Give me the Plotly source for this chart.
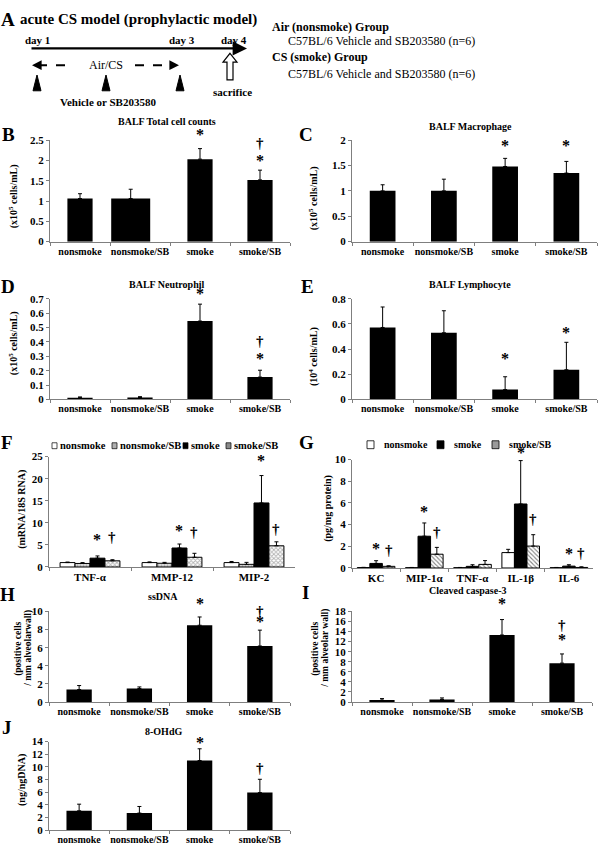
import plotly.graph_objects as go

W, H = 600, 853
SERIF = "Liberation Serif"

# ---------------- data ----------------
groups = ["nonsmoke", "nonsmoke/SB", "smoke", "smoke/SB"]

balf_total = [1.06, 1.06, 2.03, 1.52]
balf_total_sd = [0.12, 0.23, 0.26, 0.24]
balf_macro = [1.0, 1.0, 1.48, 1.35]
balf_macro_sd = [0.12, 0.23, 0.16, 0.23]
balf_neut = [0.012, 0.013, 0.545, 0.155]
balf_neut_sd = [0.005, 0.006, 0.118, 0.048]
balf_lymph = [0.572, 0.53, 0.078, 0.236]
balf_lymph_sd = [0.163, 0.175, 0.102, 0.218]
ssdna = [1.38, 1.49, 8.47, 6.18]
ssdna_sd = [0.44, 0.18, 0.91, 1.75]
caspase = [0.39, 0.52, 13.3, 7.72]
caspase_sd = [0.3, 0.3, 3.07, 1.83]
ohdg = [3.07, 2.71, 11.0, 5.94]
ohdg_sd = [1.04, 1.04, 1.85, 2.1]

# significance marks: (symbol, group, y-position in data units)
marks_total = [("*", "smoke", 2.58), ("†", "smoke/SB", 2.40), ("*", "smoke/SB", 1.96)]
marks_macro = [("*", "smoke", 1.86), ("*", "smoke/SB", 1.86)]
marks_neut = [("*", "smoke", 0.72), ("†", "smoke/SB", 0.40), ("*", "smoke/SB", 0.27)]
marks_lymph = [("*", "smoke", 0.31), ("*", "smoke/SB", 0.52)]
marks_ssdna = [("*", "smoke", 10.65), ("†", "smoke/SB", 9.9), ("*", "smoke/SB", 8.65)]
marks_casp = [("*", "smoke", 19.2), ("†", "smoke/SB", 15.05), ("*", "smoke/SB", 12.0)]
marks_ohdg = [("*", "smoke", 13.6), ("†", "smoke/SB", 9.6)]

# Panel F (mRNA)
genes = ["TNF-α", "MMP-12", "MIP-2"]
f_names = ["nonsmoke", "nonsmoke/SB", "smoke", "smoke/SB"]
f_nonsmoke = [1.0, 1.0, 1.0]
f_nonsmoke_sd = [0.12, 0.15, 0.25]
f_nonsmoke_sb = [0.8, 0.85, 0.6]
f_nonsmoke_sb_sd = [0.2, 0.2, 0.45]
f_smoke = [2.0, 4.3, 14.5]
f_smoke_sd = [0.5, 0.9, 6.2]
f_smoke_sb = [1.4, 2.2, 4.8]
f_smoke_sb_sd = [0.25, 0.9, 0.9]
f_ast = [5.7, 7.8, 23.7]     # asterisk above smoke
f_dag = [6.5, 7.6, 8.4]      # dagger above smoke/SB

# Panel G (protein)
cytokines = ["KC", "MIP-1α", "TNF-α", "IL-1β", "IL-6"]
g_names = ["nonsmoke", "smoke", "smoke/SB"]
g_nonsmoke = [0.04, 0.03, 0.03, 1.42, 0.03]
g_nonsmoke_sd = [0.02, 0.02, 0.02, 0.3, 0.02]
g_smoke = [0.42, 2.93, 0.15, 5.9, 0.17]
g_smoke_sd = [0.25, 1.22, 0.15, 4.0, 0.13]
g_smoke_sb = [0.15, 1.27, 0.33, 2.02, 0.05]
g_smoke_sb_sd = [0.05, 0.63, 0.35, 1.05, 0.06]
g_ast = [1.57, 5.0, None, 10.5, 1.15]
g_dag = [1.57, 3.26, None, 4.4, 1.27]


def X(p):
    return p / W


def Y(p):
    return 1 - p / H


fig = go.Figure()
annotations = []
shapes = []
AXC = "#7f7f7f"


def axis_style(dom_x, dom_y, anchor, ymax=None, dtick=None, xfont=10):
    xa = dict(domain=[X(dom_x[0]), X(dom_x[1])], anchor=anchor[1], showline=True,
              linecolor=AXC, linewidth=1, ticks="outside", ticklen=3, tickcolor=AXC,
              tickson="boundaries", showgrid=False, zeroline=False, tickangle=0,
              tickfont=dict(family=SERIF, size=xfont, color="black", weight="bold"))
    ya = dict(domain=[Y(dom_y[1]), Y(dom_y[0])], anchor=anchor[0], showline=True,
              linecolor=AXC, linewidth=1, ticks="outside", ticklen=3, tickcolor=AXC,
              showgrid=False, zeroline=False, range=[0, ymax], dtick=dtick,
              tickfont=dict(family=SERIF, size=11, color="black", weight="bold"))
    return xa, ya


def text_ann(text, x, y, size=10, bold=True, xanchor="center", angle=0):
    annotations.append(dict(text=text, x=X(x), y=Y(y), xref="paper", yref="paper",
                            showarrow=False, xanchor=xanchor, yanchor="middle",
                            textangle=angle,
                            font=dict(family=SERIF, size=size, color="black",
                                      weight="bold" if bold else "normal")))


def mark_ann(sym, x, y, xr, yr, ymax):
    # y given in data units; expressed as a fraction of the y-axis domain so that
    # marks above the top of the axis range are still drawn
    annotations.append(dict(text=sym, x=x, y=y / ymax, xref=xr, yref=yr + " domain",
                            showarrow=False, xanchor="center", yanchor="middle",
                            yshift=2 if sym == "*" else 1,
                            font=dict(family=SERIF, size=16 if sym == "*" else 15,
                                      color="black", weight="bold")))


simple = [
    dict(n=1, dx=(50, 290), dy=(136, 239), m=balf_total, sd=balf_total_sd, ymax=2.5, dt=0.5,
         title="BALF Total cell counts", txy=(167, 117), yt=["(x10<sup>5</sup> cells/mL)"],
         ytx=[13], yty=193, letter="B", lxy=(8, 130), marks=marks_total,
         widths=[0.42, 0.65, 0.42, 0.42], offsets=[-0.21, -0.48, -0.21, -0.21]),
    dict(n=2, dx=(352, 597), dy=(136, 239), m=balf_macro, sd=balf_macro_sd, ymax=2, dt=0.5,
         title="BALF Macrophage", txy=(470, 122), yt=["(x10<sup>5</sup> cells/mL)"],
         ytx=[313], yty=195, letter="C", lxy=(306, 130), marks=marks_macro),
    dict(n=3, dx=(50, 290), dy=(297, 399), m=balf_neut, sd=balf_neut_sd, ymax=0.7, dt=0.1,
         title="BALF Neutrophil", txy=(167, 282), yt=["(x10<sup>5</sup> cells/mL)"],
         ytx=[13], yty=342, letter="D", lxy=(8, 285), marks=marks_neut),
    dict(n=4, dx=(352, 597), dy=(297, 399), m=balf_lymph, sd=balf_lymph_sd, ymax=0.8, dt=0.2,
         title="BALF Lymphocyte", txy=(470, 282), yt=["(10<sup>4</sup> cells/mL)"],
         ytx=[313], yty=355, letter="E", lxy=(307, 285), marks=marks_lymph),
    dict(n=7, dx=(49, 290), dy=(614, 706), m=ssdna, sd=ssdna_sd, ymax=10, dt=2,
         title="ssDNA", txy=(163, 599), yt=["(positive cells", "/ mm alveolarwall)"],
         ytx=[19, 29], yty=652, letter="H", lxy=(7, 597), marks=marks_ssdna),
    dict(n=8, dx=(352, 592), dy=(614, 706), m=caspase, sd=caspase_sd, ymax=18, dt=2,
         title="Cleaved caspase-3", txy=(468, 593), yt=["(positive cells", "/ mm alveolar wall)"],
         ytx=[316, 326], yty=652, letter="I", lxy=(305, 595), marks=marks_casp),
    dict(n=9, dx=(49, 290), dy=(746, 836), m=ohdg, sd=ohdg_sd, ymax=14, dt=2,
         title="8-OHdG", txy=(163, 736), yt=["(ng/ngDNA)"],
         ytx=[22], yty=785, letter="J", lxy=(7, 732), marks=marks_ohdg),
]

layout_axes = {}
for p in simple:
    n = p["n"]
    sfx = "" if n == 1 else str(n)
    xr, yr = "x" + sfx, "y" + sfx
    widths = p.get("widths", [0.42] * 4)
    offsets = p.get("offsets", [-0.21] * 4)
    fig.add_trace(go.Bar(x=groups, y=p["m"], xaxis=xr, yaxis=yr,
                         width=widths, offset=offsets,
                         marker=dict(color="black", line=dict(width=0)),
                         error_y=dict(type="data", array=p["sd"], arrayminus=[0] * 4,
                                      symmetric=False, color="black", thickness=1, width=2),
                         showlegend=False))
    xa, ya = axis_style(p["dx"], p["dy"], (xr, yr), p["ymax"], p["dt"])
    layout_axes["xaxis" + sfx] = xa
    layout_axes["yaxis" + sfx] = ya
    text_ann(p["title"], *p["txy"], size=10)
    ysize = 10 if len(p["yt"]) == 1 else 9.5
    for line, lx in zip(p["yt"], p["ytx"]):
        text_ann(line, lx, p["yty"], size=ysize, angle=-90)
    text_ann(p["letter"], *p["lxy"], size=19)
    for sym, g, yv in p["marks"]:
        mark_ann(sym, g, yv, xr, yr, p["ymax"])

# ---------------- Panel F ----------------
f_vals = [f_nonsmoke, f_nonsmoke_sb, f_smoke, f_smoke_sb]
f_sds = [f_nonsmoke_sd, f_nonsmoke_sb_sd, f_smoke_sd, f_smoke_sb_sd]
f_markers = [
    dict(color="white", line=dict(color="black", width=1)),
    dict(color="#e0e0e0", line=dict(color="black", width=1),
         pattern=dict(shape=".", fgcolor="#555555", size=3, solidity=0.4)),
    dict(color="black", line=dict(color="black", width=1)),
    dict(color="white", line=dict(color="black", width=1),
         pattern=dict(shape="x", fgcolor="#666666", size=3, solidity=0.5)),
]
fw = 0.1825
F_YMAX = 25
for k in range(4):
    fig.add_trace(go.Bar(x=genes, y=f_vals[k], name=f_names[k], xaxis="x5", yaxis="y5",
                         width=fw, offset=-2 * fw + k * fw, marker=f_markers[k],
                         error_y=dict(type="data", array=f_sds[k], arrayminus=[0] * 3,
                                      symmetric=False, color="black", thickness=1, width=2),
                         showlegend=False))
xa, ya = axis_style((49, 295), (457, 569), ("x5", "y5"), F_YMAX, 5, xfont=11)
layout_axes["xaxis5"], layout_axes["yaxis5"] = xa, ya
for i in range(3):
    mark_ann("*", i - 2 * fw + 2.5 * fw, f_ast[i], "x5", "y5", F_YMAX)
    mark_ann("†", i - 2 * fw + 3.5 * fw, f_dag[i], "x5", "y5", F_YMAX)
text_ann("F", 7, 443, size=19)
text_ann("(mRNA/18S RNA)", 22, 511, size=10, angle=-90)
# legend F
f_leg = [(52, "nonsmoke"), (112, "nonsmoke/SB"), (183, "smoke"), (226, "smoke/SB")]
f_leg_fill = ["white", "#b0b0b0", "black", "#8a8a8a"]
for (lx, lab), fc in zip(f_leg, f_leg_fill):
    shapes.append(dict(type="rect", xref="paper", yref="paper", x0=X(lx), x1=X(lx + 5),
                       y0=Y(449), y1=Y(443), fillcolor=fc, line=dict(color="black", width=0.7)))
    text_ann(lab, lx + 6, 446, size=10.5, xanchor="left")

# ---------------- Panel G ----------------
g_vals = [g_nonsmoke, g_smoke, g_smoke_sb]
g_sds = [g_nonsmoke_sd, g_smoke_sd, g_smoke_sb_sd]
g_markers = [
    dict(color="white", line=dict(color="black", width=1)),
    dict(color="black", line=dict(color="black", width=1)),
    dict(color="white", line=dict(color="black", width=1),
         pattern=dict(shape="\\", fgcolor="black", size=3, solidity=0.35)),
]
gw = 0.26
G_YMAX = 10
for k in range(3):
    fig.add_trace(go.Bar(x=cytokines, y=g_vals[k], name=g_names[k], xaxis="x6", yaxis="y6",
                         width=gw, offset=-1.5 * gw + k * gw, marker=g_markers[k],
                         error_y=dict(type="data", array=g_sds[k], arrayminus=[0] * 5,
                                      symmetric=False, color="black", thickness=1, width=2),
                         showlegend=False))
xa, ya = axis_style((352, 593), (460, 570), ("x6", "y6"), G_YMAX, 2, xfont=11)
layout_axes["xaxis6"], layout_axes["yaxis6"] = xa, ya
for i in range(5):
    if g_ast[i] is not None:
        mark_ann("*", i, g_ast[i], "x6", "y6", G_YMAX)
    if g_dag[i] is not None:
        mark_ann("†", i + gw, g_dag[i], "x6", "y6", G_YMAX)
text_ann("G", 306, 443, size=19)
text_ann("(pg/mg protein)", 328, 510, size=10, angle=-90)
g_leg = [(367, "nonsmoke"), (437, "smoke"), (492, "smoke/SB")]
g_leg_fill = ["white", "black", "#9a9a9a"]
for (lx, lab), fc in zip(g_leg, g_leg_fill):
    shapes.append(dict(type="rect", xref="paper", yref="paper", x0=X(lx), x1=X(lx + 7),
                       y0=Y(449), y1=Y(441), fillcolor=fc, line=dict(color="black", width=0.8)))
    text_ann(lab, lx + 15, 445, size=10, xanchor="left")

# ---------------- Panel A (schematic) ----------------
text_ann("A", 8, 14, size=19)
text_ann("acute CS model (prophylactic model)", 18, 14, size=15, xanchor="left")
text_ann("day 1", 37, 34, size=11)
text_ann("day 3", 182, 34, size=11)
text_ann("day 4", 234, 34, size=11)
text_ann("Air/CS", 106, 60, size=12, bold=False)
text_ann("Vehicle or SB203580", 108, 97, size=11)
text_ann("sacrifice", 233, 87, size=11)
text_ann("Air (nonsmoke) Group", 270, 21, size=12, xanchor="left")
text_ann("C57BL/6 Vehicle and SB203580 (n=6)", 286, 36, size=12, bold=False, xanchor="left")
text_ann("CS (smoke) Group", 270, 52, size=12, xanchor="left")
text_ann("C57BL/6 Vehicle and SB203580 (n=6)", 286, 69, size=12, bold=False, xanchor="left")

# main timeline arrow
annotations.append(dict(x=X(247), y=Y(43), xref="paper", yref="paper", ax=-217, ay=0,
                        text="", showarrow=True, arrowhead=2, arrowsize=1.2, arrowwidth=2.4,
                        arrowcolor="black"))
# dashed arrows
shapes.append(dict(type="line", xref="paper", yref="paper", x0=X(38), x1=X(72), y0=Y(60), y1=Y(60),
                   line=dict(color="black", width=2, dash="dash")))
annotations.append(dict(x=X(32), y=Y(60), xref="paper", yref="paper", ax=8, ay=0, text="",
                        showarrow=True, arrowhead=2, arrowsize=1.2, arrowwidth=1.6, arrowcolor="black"))
shapes.append(dict(type="line", xref="paper", yref="paper", x0=X(135), x1=X(172), y0=Y(60), y1=Y(60),
                   line=dict(color="black", width=2, dash="dash")))
annotations.append(dict(x=X(179), y=Y(60), xref="paper", yref="paper", ax=-8, ay=0, text="",
                        showarrow=True, arrowhead=2, arrowsize=1.2, arrowwidth=1.6, arrowcolor="black"))
# triangles
for tx in (37, 106, 180):
    shapes.append(dict(type="path", xref="paper", yref="paper",
                       path=f"M {X(tx-4)},{Y(86)} L {X(tx)},{Y(70)} L {X(tx+4)},{Y(86)} Z",
                       fillcolor="black", line=dict(color="black", width=1)))
# hollow sacrifice arrow
hx = 230
pts = [(hx, 48), (hx + 7, 57), (hx + 3, 57), (hx + 3, 75), (hx - 3, 75), (hx - 3, 57), (hx - 7, 57)]
path = "M " + " L ".join(f"{X(a)},{Y(b)}" for a, b in pts) + " Z"
shapes.append(dict(type="path", xref="paper", yref="paper", path=path,
                   fillcolor="white", line=dict(color="black", width=1.2)))

fig.update_layout(width=W, height=H, margin=dict(l=0, r=0, t=0, b=0),
                  paper_bgcolor="white", plot_bgcolor="white", showlegend=False,
                  barmode="overlay", annotations=annotations, shapes=shapes,
                  font=dict(family=SERIF, color="black"), **layout_axes)

fig.write_html("out.html", config={"displayModeBar": False},
               post_script="document.body.style.margin='0px';"
                           "document.body.style.overflow='hidden';")
